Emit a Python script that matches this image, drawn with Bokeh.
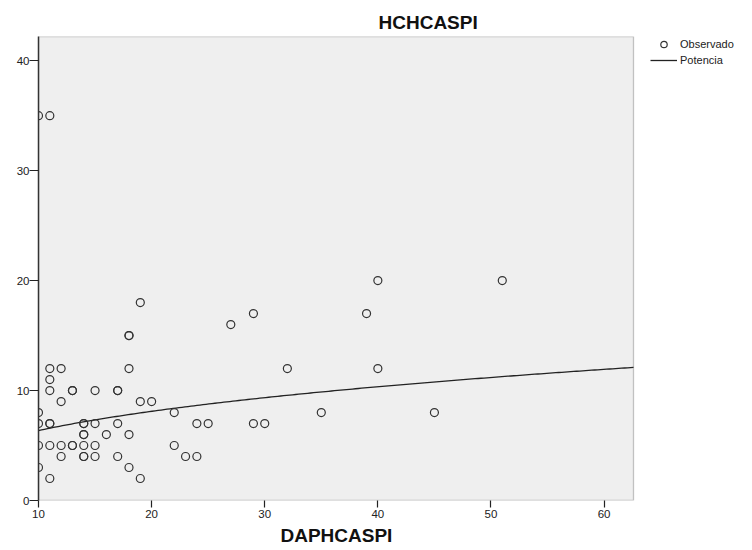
from bokeh.plotting import figure
from bokeh.models import Range1d, FixedTicker, Legend, LegendItem, BoxAnnotation, Title
from bokeh.embed import file_html
from bokeh.resources import INLINE
import numpy as np

# Observed values (DAPHCASPI, HCHCASPI); duplicates drawn twice as in the original
dap = [10, 11,
       10, 10, 10, 10,
       11, 11, 11, 11, 11, 11, 11,
       12, 12, 12, 12,
       13, 13, 13, 13,
       14, 14, 14, 14, 14, 14, 14,
       15, 15, 15, 15,
       16,
       17, 17, 17, 17,
       18, 18, 18, 18, 18,
       19, 19, 19,
       20,
       22, 22,
       23,
       24, 24,
       25,
       27,
       29, 29,
       30,
       32,
       35,
       39,
       40, 40,
       45,
       51]
hch = [35, 35,
       8, 7, 5, 3,
       12, 11, 10, 7, 7, 5, 2,
       12, 9, 5, 4,
       10, 10, 5, 5,
       7, 7, 6, 6, 5, 4, 4,
       10, 7, 5, 4,
       6,
       10, 10, 7, 4,
       15, 15, 12, 6, 3,
       18, 9, 2,
       9,
       8, 5,
       4,
       7, 4,
       7,
       16,
       17, 7,
       7,
       12,
       8,
       17,
       20, 12,
       8,
       20]

# Power model (Potencia) coefficients: y = a * x^b
pow_a = 2.834
pow_b = 0.351

x_ticks = [10, 20, 30, 40, 50, 60]
y_ticks = [0, 10, 20, 30, 40]

# axis extents of the plotting area
x_lo, x_hi = 10, 62.6
y_lo, y_hi = 0, 42.2

FONT = "Liberation Sans"

# the frame is widened to the right edge so the legend (outside the plot box) can be drawn
frame_left, plot_px, frame_px = 38, 595, 714
x_end = x_lo + (x_hi - x_lo) * frame_px / plot_px

p = figure(width=752, height=550, output_backend="svg", toolbar_location=None,
           x_range=Range1d(x_lo, x_end), y_range=Range1d(y_lo, y_hi),
           min_border_left=frame_left, min_border_right=0, min_border_top=36, min_border_bottom=50,
           title="HCHCASPI")
p.background_fill_color = "white"
p.border_fill_color = "white"
p.outline_line_color = None
p.xgrid.visible = False
p.ygrid.visible = False

# plot box (grey area with border)
p.add_layout(BoxAnnotation(left=x_lo, right=x_hi, bottom=y_lo, top=y_hi,
                           fill_color="#efefef", fill_alpha=1.0,
                           line_color="#444444", line_width=1.3, level="underlay"))

p.title.align = "left"
p.title.offset = 340
p.title.text_font = FONT
p.title.text_font_size = "19px"
p.title.text_font_style = "bold"
p.title.text_color = "#111111"
p.title.standoff = 8

for ax, ticks, tout in ((p.xaxis[0], x_ticks, 7), (p.yaxis[0], y_ticks, 9)):
    ax.ticker = FixedTicker(ticks=ticks)
    ax.minor_tick_line_color = None
    ax.major_tick_in = 0
    ax.major_tick_out = tout
    ax.major_tick_line_color = "#222222"
    ax.major_tick_line_width = 1.2
    ax.axis_line_color = "#333333"
    ax.axis_line_width = 1.5
    ax.major_label_text_font = FONT
    ax.major_label_text_font_size = "11.5px"
    ax.major_label_text_color = "#222222"
    ax.major_label_standoff = 2
p.yaxis[0].major_label_standoff = 0
p.xaxis[0].axis_line_color = None

xlabel = Title(text="DAPHCASPI", align="left", offset=242, standoff=4,
               vertical_align="bottom", text_font=FONT, text_font_size="19px",
               text_font_style="bold", text_color="#111111")
p.add_layout(xlabel, "below")

xc = np.linspace(x_lo, x_hi, 200)
yc = pow_a * xc ** pow_b
line_r = p.line(xc, yc, line_color="#222222", line_width=1.3)
pts_r = p.scatter(dap, hch, marker="circle", size=8, fill_color=None,
                  line_color="#333333", line_width=1.2)

legend = Legend(items=[LegendItem(label="Observado", renderers=[pts_r]),
                       LegendItem(label="Potencia", renderers=[line_r])],
                location=(612, 432), padding=0, margin=0, spacing=0,
                glyph_width=27, glyph_height=16, label_height=16, label_standoff=3,
                label_text_font=FONT, label_text_font_size="11px", label_text_color="#222222",
                background_fill_alpha=0, border_line_color=None)
p.add_layout(legend)

open("out.html", "w").write(file_html(p, INLINE))
